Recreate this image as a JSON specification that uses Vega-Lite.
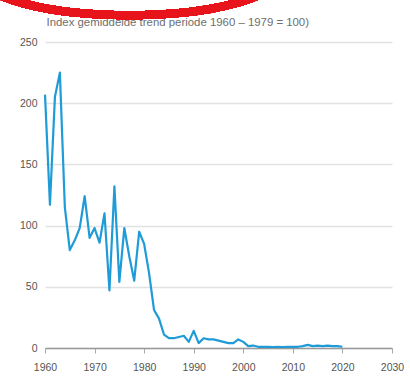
{
  "$schema": "https://vega.github.io/schema/vega-lite/v6.json",
  "width": 347,
  "height": 306,
  "autosize": {"type": "none"},
  "padding": {"left": 45, "top": 42, "right": 18, "bottom": 42},
  "background": "white",
  "config": {
    "view": {"stroke": null},
    "font": "Liberation Sans Narrow, Liberation Sans, sans-serif"
  },
  "data": {
    "values": [
      {"jaar": 1960, "index": 207},
      {"jaar": 1961, "index": 117},
      {"jaar": 1962, "index": 205},
      {"jaar": 1963, "index": 225},
      {"jaar": 1964, "index": 115},
      {"jaar": 1965, "index": 80},
      {"jaar": 1966, "index": 88},
      {"jaar": 1967, "index": 98},
      {"jaar": 1968, "index": 124},
      {"jaar": 1969, "index": 90},
      {"jaar": 1970, "index": 98},
      {"jaar": 1971, "index": 86},
      {"jaar": 1972, "index": 110},
      {"jaar": 1973, "index": 47},
      {"jaar": 1974, "index": 132},
      {"jaar": 1975, "index": 54},
      {"jaar": 1976, "index": 98},
      {"jaar": 1977, "index": 75},
      {"jaar": 1978, "index": 55},
      {"jaar": 1979, "index": 95},
      {"jaar": 1980, "index": 85},
      {"jaar": 1981, "index": 61},
      {"jaar": 1982, "index": 31},
      {"jaar": 1983, "index": 24},
      {"jaar": 1984, "index": 11},
      {"jaar": 1985, "index": 8},
      {"jaar": 1986, "index": 8},
      {"jaar": 1987, "index": 9},
      {"jaar": 1988, "index": 10},
      {"jaar": 1989, "index": 5},
      {"jaar": 1990, "index": 14},
      {"jaar": 1991, "index": 4},
      {"jaar": 1992, "index": 8},
      {"jaar": 1993, "index": 7},
      {"jaar": 1994, "index": 7},
      {"jaar": 1995, "index": 6},
      {"jaar": 1996, "index": 5},
      {"jaar": 1997, "index": 4},
      {"jaar": 1998, "index": 4},
      {"jaar": 1999, "index": 7},
      {"jaar": 2000, "index": 5},
      {"jaar": 2001, "index": 1.5},
      {"jaar": 2002, "index": 2},
      {"jaar": 2003, "index": 1},
      {"jaar": 2004, "index": 1},
      {"jaar": 2005, "index": 1},
      {"jaar": 2006, "index": 0.8},
      {"jaar": 2007, "index": 1},
      {"jaar": 2008, "index": 0.8},
      {"jaar": 2009, "index": 1},
      {"jaar": 2010, "index": 1},
      {"jaar": 2011, "index": 1},
      {"jaar": 2012, "index": 1.5},
      {"jaar": 2013, "index": 2.5},
      {"jaar": 2014, "index": 1.5},
      {"jaar": 2015, "index": 2},
      {"jaar": 2016, "index": 1.5},
      {"jaar": 2017, "index": 2},
      {"jaar": 2018, "index": 1.5},
      {"jaar": 2019, "index": 1.5},
      {"jaar": 2020, "index": 1}
    ]
  },
  "layer": [
    {
      "mark": {"type": "line", "color": "#1f9bd7", "strokeWidth": 2.2, "strokeJoin": "round"},
      "encoding": {
        "x": {
          "field": "jaar",
          "type": "quantitative",
          "scale": {"domain": [1960, 2030], "nice": false, "zero": false},
          "axis": {
            "title": null,
            "values": [1960, 1965, 1970, 1975, 1980, 1985, 1990, 1995, 2000, 2005, 2010, 2015, 2020, 2025, 2030],
            "labelExpr": "datum.value % 10 == 0 ? format(datum.value, 'd') : ''",
            "grid": false,
            "domainColor": "#999999",
            "domainWidth": 1.5,
            "tickColor": "#aaaaaa",
            "tickSize": 5,
            "tickWidth": 1,
            "labelPadding": 9,
            "labelFontSize": 10.5,
            "labelColor": "#555555",
            "labelFont": "Liberation Sans Narrow, Liberation Sans, sans-serif",
            "labelFlush": false
          }
        },
        "y": {
          "field": "index",
          "type": "quantitative",
          "scale": {"domain": [0, 250], "nice": false},
          "axis": {
            "title": "Index gemiddelde trend periode 1960 – 1979 = 100)",
            "titleAngle": 0,
            "titleAlign": "left",
            "titleBaseline": "middle",
            "titleX": 1,
            "titleY": -20,
            "titleFontSize": 11.4,
            "titleFontWeight": "normal",
            "titleColor": "#6e6e6e",
            "titleFont": "Liberation Sans Narrow, Liberation Sans, sans-serif",
            "values": [0, 50, 100, 150, 200, 250],
            "domain": false,
            "ticks": false,
            "grid": true,
            "gridColor": "#e2e2e2",
            "gridWidth": 1.5,
            "labelPadding": 8,
            "labelFontSize": 10.5,
            "labelColor": "#555555",
            "labelFont": "Liberation Sans Narrow, Liberation Sans, sans-serif"
          }
        }
      }
    },
    {
      "mark": {
        "type": "point",
        "shape": "M -1 0 A 1 0.27 0 1 0 1 0 A 1 0.27 0 1 0 -1 0 Z",
        "size": 90000,
        "filled": false,
        "stroke": "#e8141b",
        "strokeWidth": 8,
        "opacity": 1
      },
      "encoding": {
        "x": {"datum": 1977},
        "y": {"datum": 305}
      }
    }
  ]
}
